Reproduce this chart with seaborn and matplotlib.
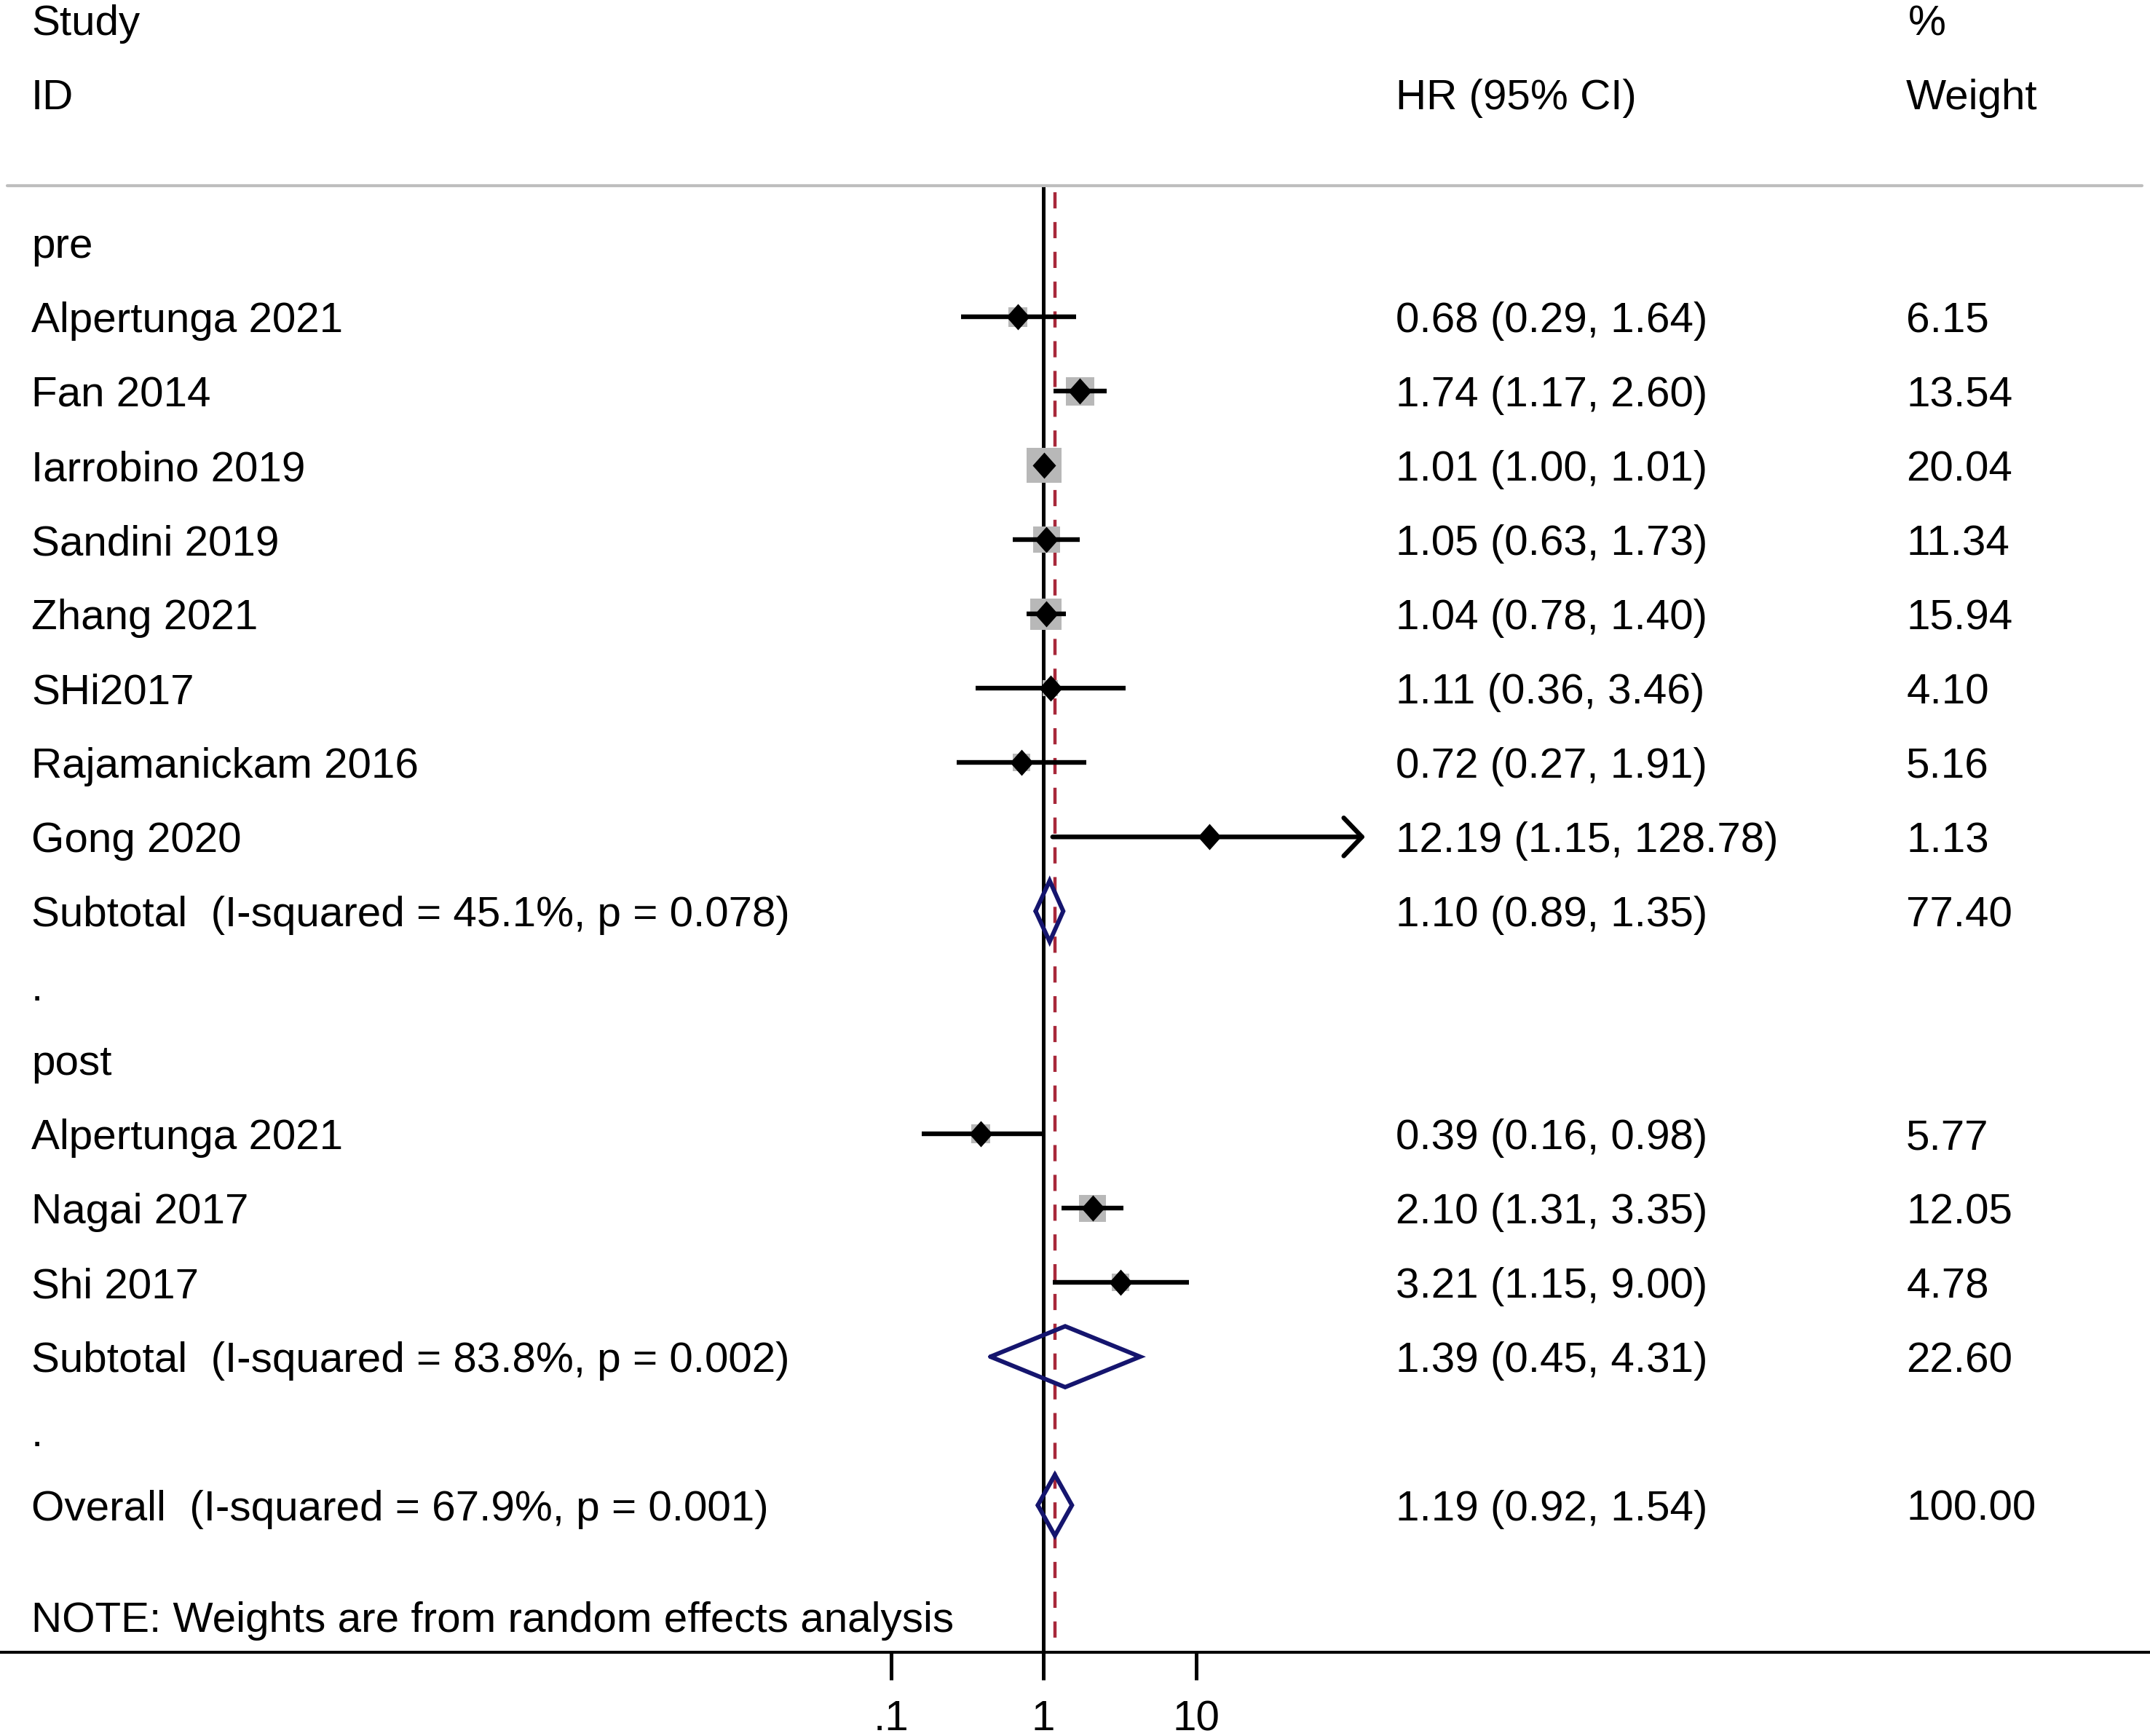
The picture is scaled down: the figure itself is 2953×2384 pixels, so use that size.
import numpy as np
import pandas as pd
import seaborn as sns
import matplotlib as mpl
import matplotlib.pyplot as plt
import matplotlib.transforms as mtransforms

# studies, subgroup "pre"
pre_study = ['Alpertunga 2021', 'Fan 2014', 'Iarrobino 2019', 'Sandini 2019',
             'Zhang 2021', 'SHi2017', 'Rajamanickam 2016', 'Gong 2020']
pre_hr = [0.68, 1.74, 1.01, 1.05, 1.04, 1.11, 0.72, 12.19]
pre_lo = [0.29, 1.17, 1.00, 0.63, 0.78, 0.36, 0.27, 1.15]
pre_hi = [1.64, 2.60, 1.01, 1.73, 1.40, 3.46, 1.91, 128.78]
pre_wt = [6.15, 13.54, 20.04, 11.34, 15.94, 4.10, 5.16, 1.13]

# studies, subgroup "post"
post_study = ['Alpertunga 2021', 'Nagai 2017', 'Shi 2017']
post_hr = [0.39, 2.10, 3.21]
post_lo = [0.16, 1.31, 1.15]
post_hi = [0.98, 3.35, 9.00]
post_wt = [5.77, 12.05, 4.78]

# pooled estimates: pre subtotal, post subtotal, overall
pool_label = ['Subtotal  (I-squared = 45.1%, p = 0.078)',
              'Subtotal  (I-squared = 83.8%, p = 0.002)',
              'Overall  (I-squared = 67.9%, p = 0.001)']
pool_hr = [1.10, 1.39, 1.19]
pool_lo = [0.89, 0.45, 0.92]
pool_hi = [1.35, 4.31, 1.54]
pool_wt = [77.40, 22.60, 100.00]

tick_vals = [0.1, 1, 10]
tick_text = ['.1', '1', '10']

# row layout
pre_rows = list(range(1, 9))
post_rows = list(range(12, 15))
pool_rows = [9, 15, 17]

df = pd.DataFrame({
    'study': pre_study + post_study,
    'hr': pre_hr + post_hr,
    'lo': pre_lo + post_lo,
    'hi': pre_hi + post_hi,
    'weight': pre_wt + post_wt,
    'row': pre_rows + post_rows,
})

sns.set_style('white')
plt.rcParams['font.family'] = ['Liberation Sans', 'DejaVu Sans']
FS = 42
LW = 4.6

fig = plt.figure(figsize=(29.53, 23.84), dpi=100)
ax = fig.add_axes([0, 0.04824, 1, 0.95176])
ax.set_xscale('log')
ax.set_xlim(10 ** -6.840, 10 ** 7.255)
ax.set_ylim(18.98, -3.27)

# reference lines
ax.vlines(1, -0.77, 18.98, color='black', lw=3.6, zorder=1)
ax.plot([pool_hr[2], pool_hr[2]], [-0.68, 18.98], color='#a8283a', lw=3.2,
        dashes=(5.0, 4.2), zorder=1.5)
ax.axhline(-0.77, xmin=0.0034, xmax=0.9963, color='#bebebe', lw=3.0, zorder=1)

# weight boxes
sns.scatterplot(data=df, x='hr', y='row', size='weight', sizes=(0, 1194),
                size_norm=(0, 20.04), marker='s', color='#b8b8b8',
                linewidth=0, legend=False, ax=ax, zorder=2)

# confidence intervals
for _, d in df.iterrows():
    if d['hi'] > 100:
        ax.annotate('', xy=(d['hi'], d['row']), xytext=(d['lo'], d['row']),
                    arrowprops=dict(arrowstyle='->,head_length=0.45,head_width=0.47',
                                    lw=LW, color='black', mutation_scale=40,
                                    shrinkA=0, shrinkB=0), zorder=3)
    else:
        ax.hlines(d['row'], d['lo'], d['hi'], color='black', lw=LW, zorder=3)

# point estimates (slightly tall diamond)
diamond = mpl.markers.MarkerStyle(mpl.path.Path(
    [(0, 1), (0.89, 0), (0, -1), (-0.89, 0), (0, 1)], closed=True))
sns.scatterplot(data=df, x='hr', y='row', marker=diamond, color='black',
                s=672, linewidth=0, legend=False, ax=ax, zorder=4)

# pooled diamonds
h = 0.41
for r, e, lo, hi in zip(pool_rows, pool_hr, pool_lo, pool_hi):
    ax.plot([lo, e, hi, e, lo], [r, r - h, r, r + h, r], color='#15156e',
            lw=4.3, solid_joinstyle='miter', zorder=4)

# text columns
tr = mtransforms.blended_transform_factory(ax.transAxes, ax.transData)
xs, xh, xw = 0.01456, 0.6492, 0.8866
off = 0.205


def put(x, r, s):
    ax.text(x, r + off, s, transform=tr, fontsize=FS, va='baseline',
            ha='left', color='black')


put(xs, -3, 'Study')
put(xs, -2, 'ID')
put(xh, -2, 'HR (95% CI)')
put(xw + 0.001, -3, '%')
put(xw, -2, 'Weight')

put(xs, 0, 'pre')
put(xs, 10, '.')
put(xs, 11, 'post')
put(xs, 16, '.')

for _, d in df.iterrows():
    put(xs, d['row'], d['study'])
    put(xh, d['row'], f"{d['hr']:.2f} ({d['lo']:.2f}, {d['hi']:.2f})")
    put(xw, d['row'], f"{d['weight']:.2f}")

for r, lab, e, lo, hi, w in zip(pool_rows, pool_label, pool_hr, pool_lo,
                                pool_hi, pool_wt):
    put(xs, r, lab)
    put(xh, r, f"{e:.2f} ({lo:.2f}, {hi:.2f})")
    put(xw, r, f"{w:.2f}")

put(xs, 18.5, 'NOTE: Weights are from random effects analysis')

# axis
for side in ['top', 'left', 'right']:
    ax.spines[side].set_visible(False)
ax.spines['bottom'].set_color('black')
ax.spines['bottom'].set_linewidth(2.9)
ax.set_xticks(tick_vals)
ax.set_xticklabels(tick_text)
ax.minorticks_off()
ax.set_yticks([])
ax.tick_params(axis='x', direction='out', length=27, width=3.6, pad=20,
               labelsize=FS, colors='black', bottom=True)
ax.set_xlabel('')
ax.set_ylabel('')

fig.savefig('out.png', dpi=100)
